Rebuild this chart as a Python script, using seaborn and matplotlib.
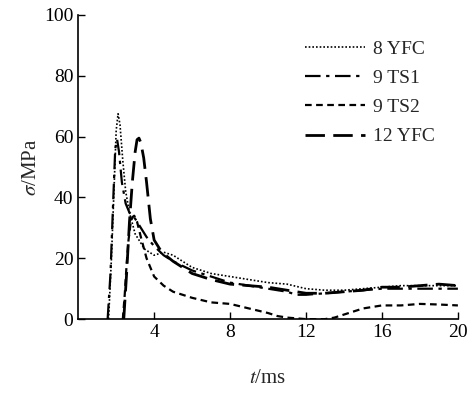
import matplotlib
matplotlib.use("Agg")
import matplotlib.pyplot as plt
import seaborn as sns
import pandas as pd

# ---- data ----
t_8yfc = [1.6, 1.75, 1.9, 2.0, 2.1, 2.2, 2.35, 2.5, 2.7, 3.0, 3.5, 4.0, 4.5, 5.0, 6.0, 7.0, 8.0,
          9.0, 10.0, 11.0, 12.0, 13.0, 14.0, 15.0, 16.0, 17.0, 18.0, 19.0, 20.0]
s_8yfc = [0, 20, 45, 62, 67.5, 64, 52, 42, 35, 28, 23, 21, 22, 21, 17, 15, 14,
          13, 12, 11.5, 10, 9.5, 9.5, 10, 10.5, 11, 11, 11, 11]

t_9ts1 = [1.55, 1.7, 1.85, 1.95, 2.05, 2.15, 2.3, 2.5, 2.7, 3.0, 3.3, 3.6, 4.0, 4.5, 5.0, 6.0,
          7.0, 8.0, 9.0, 10.0, 11.0, 11.5, 12.0, 13.0, 14.0, 15.0, 16.0, 17.0, 18.0, 19.0, 20.0]
s_9ts1 = [0, 15, 40, 56, 59, 55, 45, 38, 35, 33, 30, 27, 24, 21, 19, 16,
          14, 12, 11, 10, 9, 8, 8, 8.5, 9, 9.5, 10, 10, 10, 10, 10]

t_9ts2 = [2.35, 2.45, 2.55, 2.65, 2.75, 2.85, 2.95, 3.1, 3.3, 3.6, 4.0, 4.5, 5.0, 6.0, 7.0, 8.0,
          9.0, 10.0, 10.5, 11.0, 12.0, 13.0, 13.5, 14.0, 15.0, 16.0, 17.0, 18.0, 19.0, 20.0]
s_9ts2 = [0, 8, 18, 26, 31, 33.5, 34, 32, 27, 20, 14, 11, 9, 7, 5.5, 5,
          3.5, 2, 1, 0.5, 0, 0, 0.5, 1.5, 3.5, 4.5, 4.5, 5, 4.8, 4.5]

t_12yfc = [2.4, 2.55, 2.7, 2.85, 3.0, 3.1, 3.2, 3.3, 3.45, 3.6, 3.8, 4.0, 4.3, 4.6, 5.0, 6.0,
           7.0, 8.0, 9.0, 10.0, 11.0, 12.0, 13.0, 14.0, 15.0, 16.0, 17.0, 18.0, 19.0, 20.0]
s_12yfc = [0, 15, 32, 45, 55, 59, 59.5, 58, 53, 45, 33, 26, 23, 21, 19, 15,
           13, 11.5, 11, 10.5, 9.5, 8.5, 8.5, 9, 9.5, 10.5, 10.5, 11, 11.5, 11]

labels = ["8 YFC", "9 TS1", "9 TS2", "12 YFC"]
x_ticks = [4, 8, 12, 16, 20]
y_ticks = [0, 20, 40, 60, 80, 100]

series = [(labels[0], t_8yfc, s_8yfc), (labels[1], t_9ts1, s_9ts1),
          (labels[2], t_9ts2, s_9ts2), (labels[3], t_12yfc, s_12yfc)]
styles = {
    labels[0]: dict(ls=(0, (1, 1.2)), lw=1.2),
    labels[1]: dict(ls=(0, (7, 2.5, 1.5, 2.5)), lw=1.6),
    labels[2]: dict(ls=(0, (3, 2)), lw=1.6),
    labels[3]: dict(ls=(0, (7, 3)), lw=2.0),
}

sns.set_style("ticks")
plt.rcParams['font.family'] = ['Liberation Serif', 'DejaVu Serif']
plt.rcParams['mathtext.fontset'] = 'stix'

fig = plt.figure(figsize=(4.74, 3.93), dpi=100)
ax = fig.add_axes([0.165, 0.188, 0.801, 0.774])

for name, t, s in series:
    df = pd.DataFrame({"t": t, "s": s})
    st = styles[name]
    sns.lineplot(data=df, x="t", y="s", ax=ax, sort=False, color="black",
                 linestyle=st["ls"], linewidth=st["lw"], label=name)

ax.set_xlim(0, 20)
ax.set_ylim(0, 100)
ax.set_xticks(x_ticks)
ax.set_yticks(y_ticks)
ax.tick_params(direction="in", length=5, width=1, labelsize=14, colors="black")
for sp in ["top", "right"]:
    ax.spines[sp].set_visible(False)
for sp in ["left", "bottom"]:
    ax.spines[sp].set_linewidth(1.2)
    ax.spines[sp].set_color("black")

ax.set_xlabel(r"$t$/ms", fontsize=15, labelpad=20)
ax.set_ylabel(r"$\sigma$/MPa", fontsize=15, labelpad=2)

leg = ax.legend(loc="upper right", bbox_to_anchor=(0.985, 0.975), frameon=False, fontsize=14,
                handlelength=3.1, handletextpad=0.4, labelspacing=0.6)

fig.savefig("out.png", dpi=100)
